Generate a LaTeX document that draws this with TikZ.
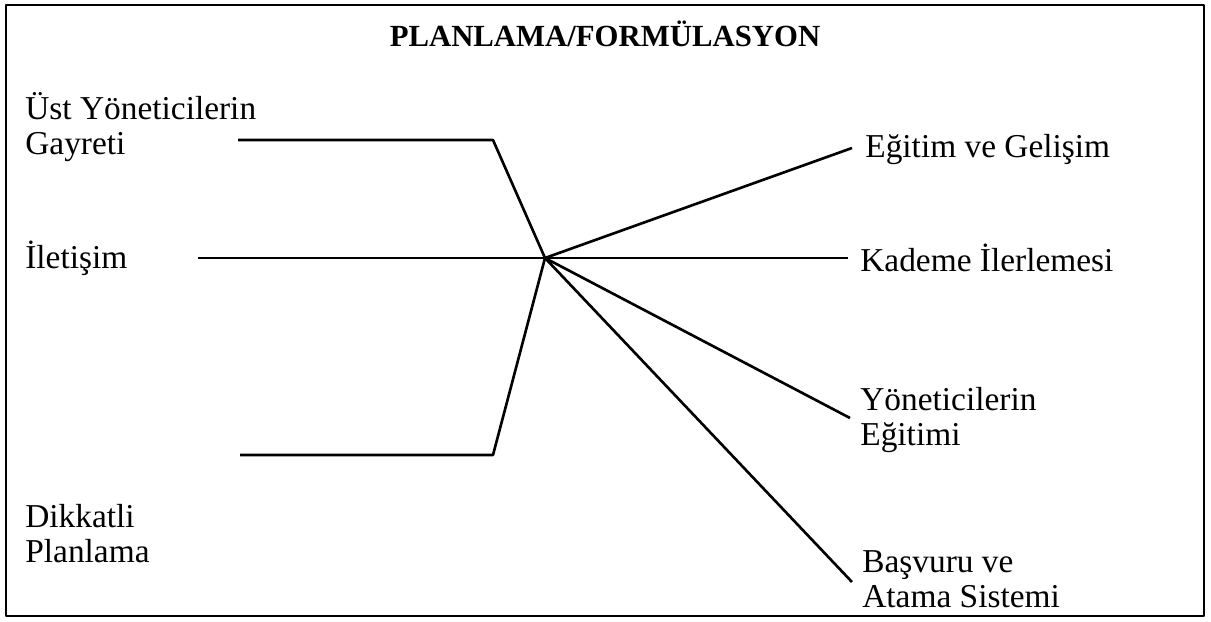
\documentclass[tikz,border=0pt]{standalone}
\usepackage{fontspec}
\setmainfont{Liberation Serif}

\begin{document}
\begin{tikzpicture}[x=0.02cm, y=-0.02cm, line join=round,
    lbl/.style={anchor=west, align=left, inner sep=0pt, font=\fontsize{19}{20}\selectfont},
    link/.style={line width=1.5pt}]
  \useasboundingbox (0,0) rectangle (1211,622);
  \draw[line width=1.3pt] (6,5) rectangle (1204,616);
  \node[font=\bfseries\fontsize{17.5}{20}\selectfont] (title) at (605,34) {PLANLAMA/FORMÜLASYON};
  % sol taraf
  \node[lbl] (ust) at (25,127) {Üst Yöneticilerin\\Gayreti};
  \node[lbl] (ilet) at (25,258) {İletişim};
  \node[lbl] (dikk) at (25,534) {Dikkatli\\Planlama};
  % sag taraf
  \node[lbl] (egit) at (865,150) {Eğitim ve Gelişim};
  \node[lbl] (kad) at (860,258) {Kademe İlerlemesi};
  \node[lbl] (yon) at (860,420) {Yöneticilerin\\Eğitimi};
  \node[lbl] (bas) at (862,579) {Başvuru ve\\Atama Sistemi};
  \coordinate (J) at (545,258);
  \coordinate (ust-a) at (238,140);
  \coordinate (ust-b) at (493,140);
  \coordinate (ilet-a) at (198,258);
  \coordinate (kad-a) at (848,258);
  \coordinate (dikk-a) at (240,455);
  \coordinate (dikk-b) at (493,455);
  \coordinate (egit-a) at (852,148);
  \coordinate (yon-a) at (850,418);
  \coordinate (bas-a) at (852,582);
  \draw[link] (ust-a) -- (ust-b) -- (J);
  \draw[link] (dikk-a) -- (dikk-b) -- (J);
  \draw[link] (ilet-a) -- (kad-a);
  \draw[link] (J) -- (egit-a);
  \draw[link] (J) -- (yon-a);
  \draw[link] (J) -- (bas-a);
\end{tikzpicture}
\end{document}
